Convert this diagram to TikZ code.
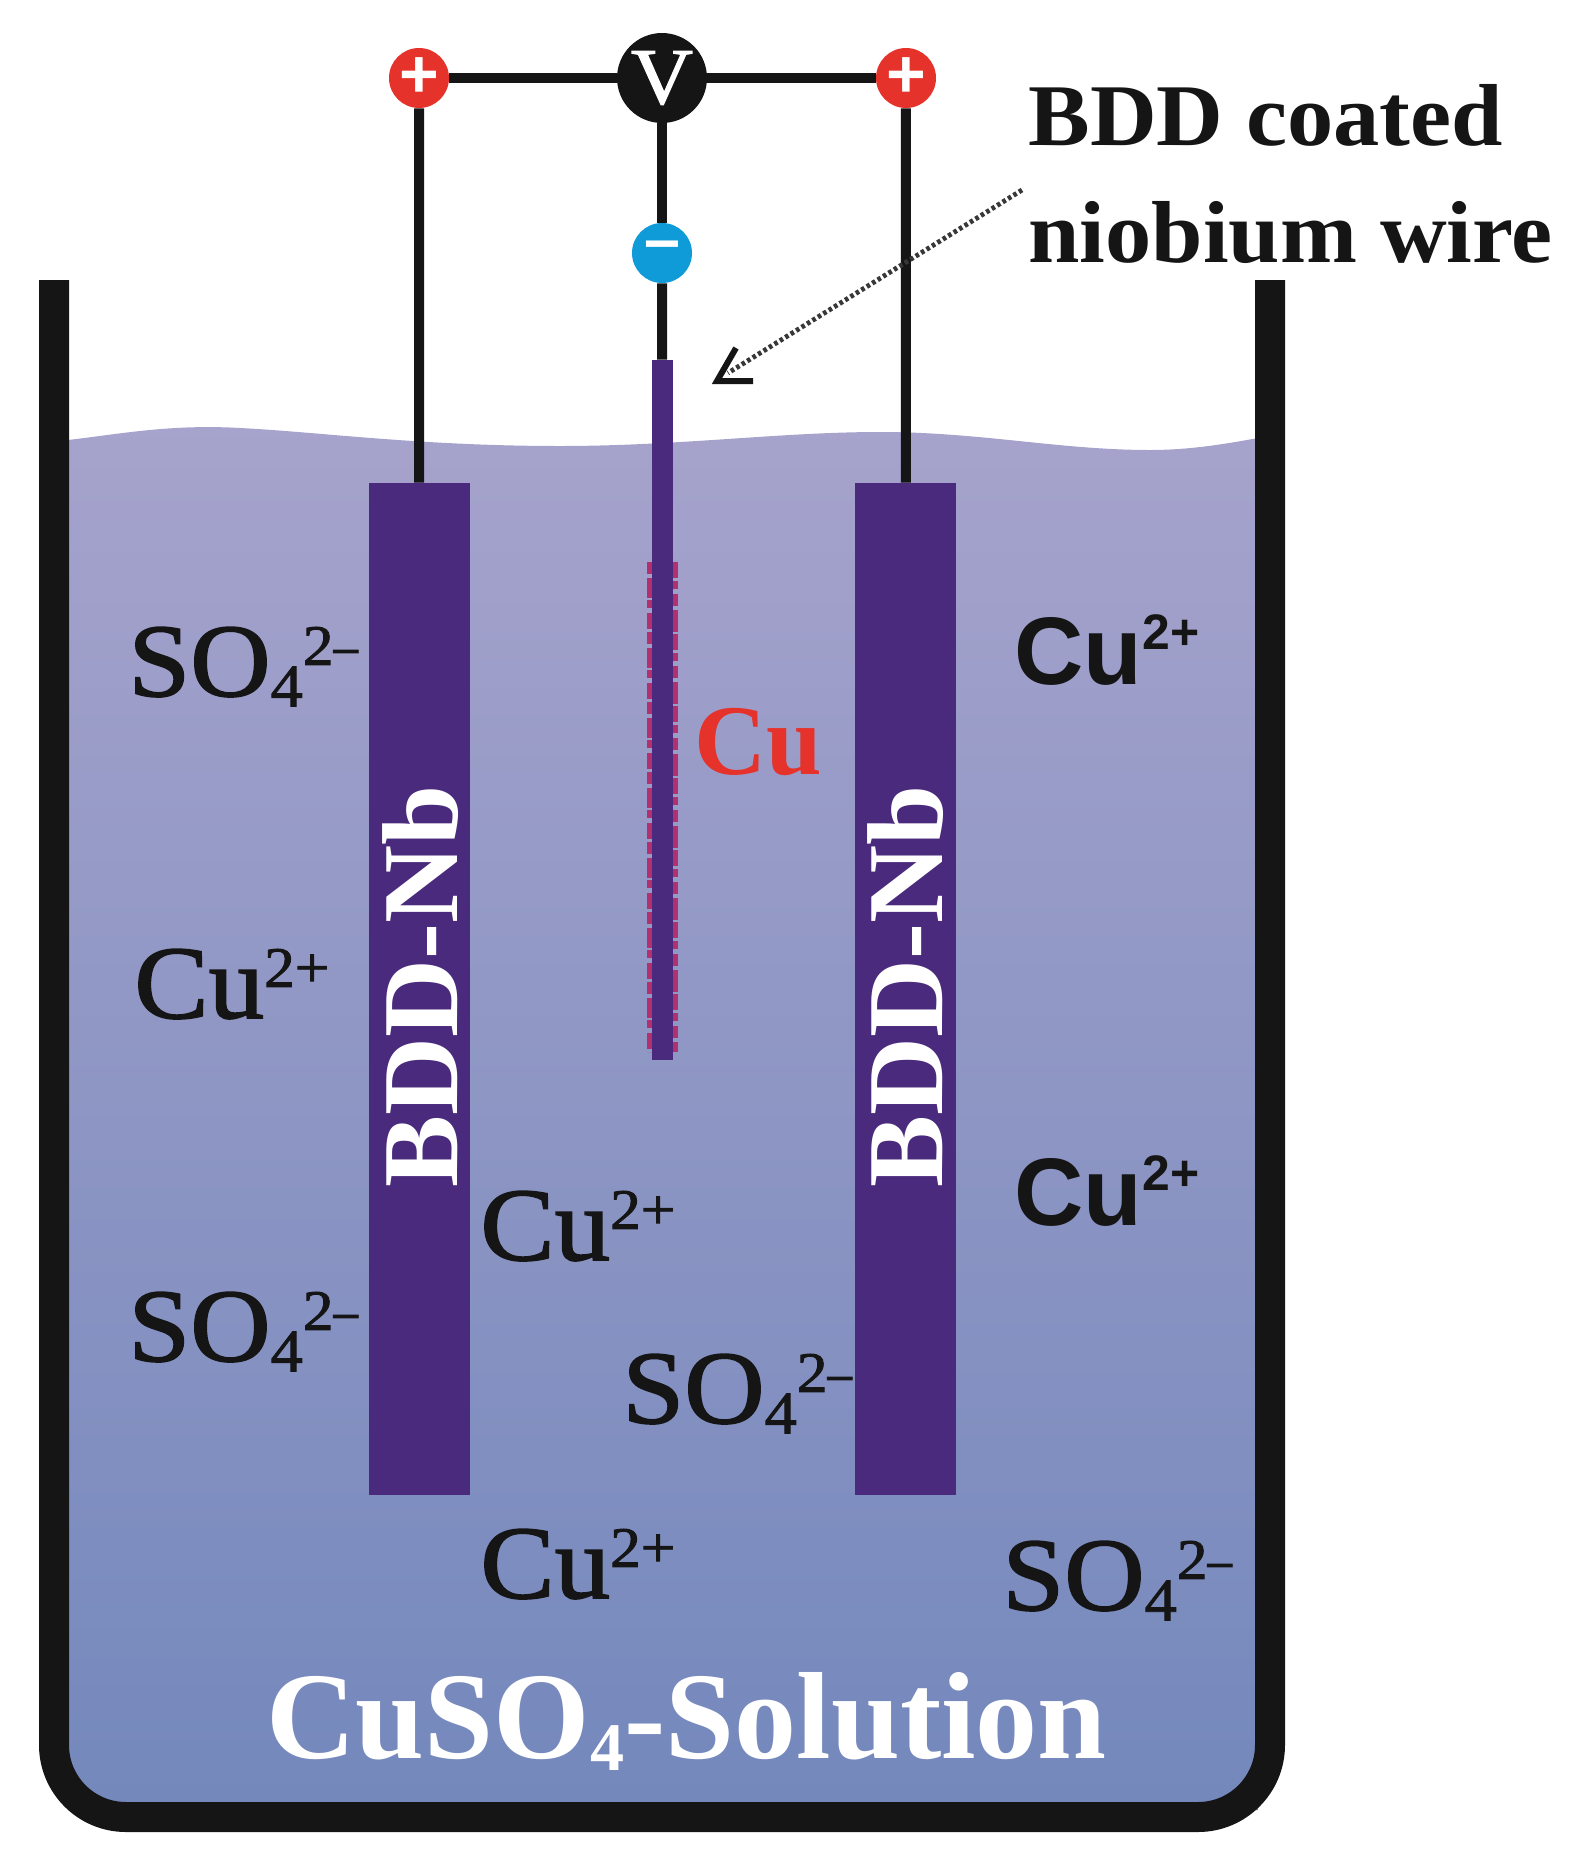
\documentclass[tikz,border=0pt]{standalone}
\usepackage{fontspec}
\usepackage{graphicx}
\setmainfont{Liberation Serif}
\newfontfamily\sansb{Liberation Sans}
\newfontfamily\ionf[FakeBold=1.6,FakeStretch=1.07]{Liberation Serif}
\newfontfamily\capf[BoldFont={Liberation Serif Bold},FakeStretch=1.05]{Liberation Serif}
\usetikzlibrary{calc}
\definecolor{wtop}{HTML}{A6A3CC}
\definecolor{wmid}{HTML}{8592C2}
\definecolor{wbot}{HTML}{7488BC}
\definecolor{rodc}{HTML}{4A2A7C}
\definecolor{redc}{HTML}{E5322A}
\definecolor{bluec}{HTML}{0F9BD8}
\definecolor{inkc}{HTML}{151515}
\definecolor{cudep}{HTML}{B03070}
\newcommand{\supx}[1]{\raisebox{.3em}{\scalebox{.55}{#1}}}
\newcommand{\supm}{\raisebox{.3em}{\scalebox{.55}{2\scalebox{.8}[1]{–}}}}
\newcommand{\subx}[1]{\raisebox{-.1em}{\scalebox{.58}{#1}}}
\newcommand{\supb}[1]{\raisebox{.36em}{\scalebox{.52}{#1}}}
\tikzset{
  wire/.style={draw=inkc,line width=5pt},
  terminal/.style={circle,inner sep=0pt,minimum size=30pt,text=white,font=\sansb\bfseries\fontsize{34}{34}\selectfont},
  elec/.style={rectangle,fill=rodc,draw=none,inner sep=0pt,minimum width=50.5pt,minimum height=506pt},
  ion/.style={anchor=base west,inner sep=0pt,text=inkc,font=\ionf\fontsize{52}{56}\selectfont},
  ionb/.style={anchor=base west,inner sep=0pt,text=inkc,font=\sansb\bfseries\fontsize{48}{56}\selectfont},
  elabel/.style={anchor=base,rotate=90,inner sep=0pt,text=white,font=\bfseries\fontsize{54}{56}\selectfont},
}
\begin{document}
\begin{tikzpicture}[x=.5pt,y=-.5pt]
\useasboundingbox[fill=white] (0,0) rectangle (1584,1864);
% solution
\shade[top color=wtop,middle color=wmid,bottom color=wbot]
  (68,440) .. controls (120,434) and (170,424) .. (240,428)
  .. controls (320,432) and (420,446) .. (560,446)
  .. controls (680,446) and (780,432) .. (880,432)
  .. controls (980,432) and (1060,450) .. (1150,450)
  .. controls (1190,450) and (1225,444) .. (1258,438)
  -- (1258,1810) -- (68,1810) -- cycle;
% beaker
\draw[inkc,line width=15pt,rounded corners=36pt] (54,280) -- (54,1817) -- (1270,1817) -- (1270,280);
% copper deposit
\coordinate (dl1) at (650,562); \coordinate (dl2) at (650,1052);
\coordinate (dr1) at (675,562); \coordinate (dr2) at (675,1052);
\draw[cudep,line width=3pt,dash pattern=on 6pt off 2pt on 10pt off 1pt on 4pt off 2.5pt on 8pt off 1.5pt] (dl1) -- (dl2);
\draw[cudep,line width=3pt,dash pattern=on 8pt off 1.5pt on 4pt off 2.5pt on 6pt off 2pt on 11pt off 1pt] (dr1) -- (dr2);
% electrodes
\node[elec] (el1) at (419.5,989) {};
\node[elec] (el2) at (905.5,989) {};
\node[rectangle,fill=rodc,inner sep=0pt,minimum width=10.5pt,minimum height=350pt] (rod) at (662.5,710) {};
% terminals
\node[terminal,fill=redc] (pl) at (419,78) {+};
\node[terminal,fill=redc] (pr) at (906,78) {+};
\node[terminal,fill=bluec] (mn) at (662,253) {\raisebox{2pt}{\scalebox{.95}{–}}};
\node[circle,fill=inkc,inner sep=0pt,minimum size=45pt,text=white,font=\ionf\fontsize{40}{40}\selectfont] (vm) at (662,78) {V};
% wires
\draw[wire] (pl) -- (vm);
\draw[wire] (vm) -- (pr);
\draw[wire] (pl) -- (el1);
\draw[wire] (pr) -- (el2);
\draw[wire] (vm) -- (mn);
\draw[wire] (mn) -- (rod);
% annotation
\coordinate (as) at (1022,190);
\coordinate (at) at (717,381);
\coordinate (ah1) at (736,348);
\coordinate (ah2) at (753,381);
\coordinate (ae) at (728,373);
\draw[inkc!85,line width=2.4pt,dash pattern=on 1.8pt off 1.4pt] (as) -- (ae);
\draw[inkc,line width=3pt] (ah1) -- (at) -- (ah2);
\node[anchor=base west,inner sep=0pt,text=inkc,font=\capf\bfseries\fontsize{44}{50}\selectfont] (t1) at (1028,145) {BDD coated};
\node[anchor=base west,inner sep=0pt,text=inkc,font=\capf\bfseries\fontsize{44}{50}\selectfont] (t2) at (1028,262) {niobium wire};
% ions
\node[ion] (s1) at (128,696) {SO\subx{4}\supm};
\node[ion] (c1) at (134,1018) {Cu\supx{2+}};
\node[ion] (s2) at (128,1361) {SO\subx{4}\supm};
\node[ion] (c2) at (480,1260) {Cu\supx{2+}};
\node[ion] (s3) at (622,1423) {SO\subx{4}\supm};
\node[ion] (c3) at (480,1598) {Cu\supx{2+}};
\node[ion] (s4) at (1002,1610) {SO\subx{4}\supm};
\node[ionb] (c4) at (1014,684) {Cu\supb{2+}};
\node[ionb] (c5) at (1014,1225) {Cu\supb{2+}};
\node[anchor=base west,inner sep=0pt,text=redc,font=\bfseries\fontsize{50}{56}\selectfont] (cu) at (694,774) {Cu};
\node[elabel] (b1) at (457,986) {BDD-Nb};
\node[elabel] (b2) at (942,986) {BDD-Nb};
\node[anchor=base west,inner sep=0pt,text=white,font=\bfseries\fontsize{62}{70}\selectfont] (sol) at (266,1758) {CuSO\raisebox{-.1em}{\scalebox{.55}{4}}-Solution};
\end{tikzpicture}
\end{document}
